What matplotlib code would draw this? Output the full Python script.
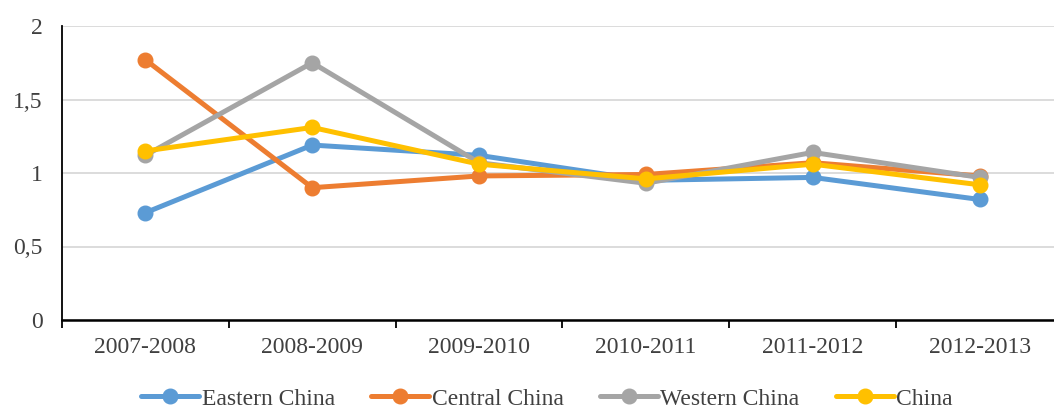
import matplotlib
matplotlib.use("Agg")
import matplotlib.pyplot as plt
from matplotlib.ticker import FixedLocator, FuncFormatter

categories = ["2007-2008", "2008-2009", "2009-2010", "2010-2011", "2011-2012", "2012-2013"]
eastern = [0.73, 1.19, 1.12, 0.95, 0.97, 0.82]
central = [1.77, 0.90, 0.98, 0.99, 1.07, 0.98]
western = [1.12, 1.75, 1.07, 0.93, 1.14, 0.97]
china = [1.15, 1.31, 1.06, 0.96, 1.06, 0.92]
series_names = ["Eastern China", "Central China", "Western China", "China"]
colors = ["#5B9BD5", "#ED7D31", "#A5A5A5", "#FFC000"]

plt.rcParams['font.family'] = ['Liberation Serif', 'DejaVu Serif']

fig = plt.figure(figsize=(10.54, 4.08), dpi=100)
ax = fig.add_axes([62/1054, 1-320/408, (1063-62)/1054, (320-26)/408])

x = list(range(len(categories)))
for vals, name, c in zip([eastern, central, western, china], series_names, colors):
    ax.plot(x, vals, color=c, lw=3.6, marker='o', ms=10.5, label=name,
            solid_capstyle='round', solid_joinstyle='round', zorder=3)

ax.set_xlim(-0.5, len(categories)-0.5)
ax.set_ylim(0, 2)
ax.set_yticks([0, 0.5, 1, 1.5, 2])
ax.yaxis.set_major_formatter(FuncFormatter(lambda v, p: ("%g" % v).replace('.', ',')))
ax.set_xticks(x)
ax.set_xticklabels(categories)
ax.xaxis.set_minor_locator(FixedLocator([i + 0.5 for i in range(-1, len(categories))]))
ax.tick_params(axis='x', which='major', length=0, pad=12, labelsize=17, labelcolor='#404040')
ax.tick_params(axis='x', which='minor', length=6, width=1.3, color='black', direction='out')
ax.tick_params(axis='y', length=0, pad=14, labelsize=17, labelcolor='#404040')
ax.grid(axis='y', color='#D9D9D9', lw=1.3, zorder=0)
ax.set_axisbelow(True)
for s in ['top', 'right']:
    ax.spines[s].set_visible(False)
ax.spines['left'].set_linewidth(1.3)
ax.spines['bottom'].set_linewidth(1.8)

leg = fig.legend(loc='center', bbox_to_anchor=(547/1054, 1-399/408), ncol=4, frameon=False,
                 fontsize=17, handlelength=2.45, handletextpad=0.1, columnspacing=1.55,
                 labelcolor='#404040', borderpad=0)
fig.savefig("out.png", dpi=100)
